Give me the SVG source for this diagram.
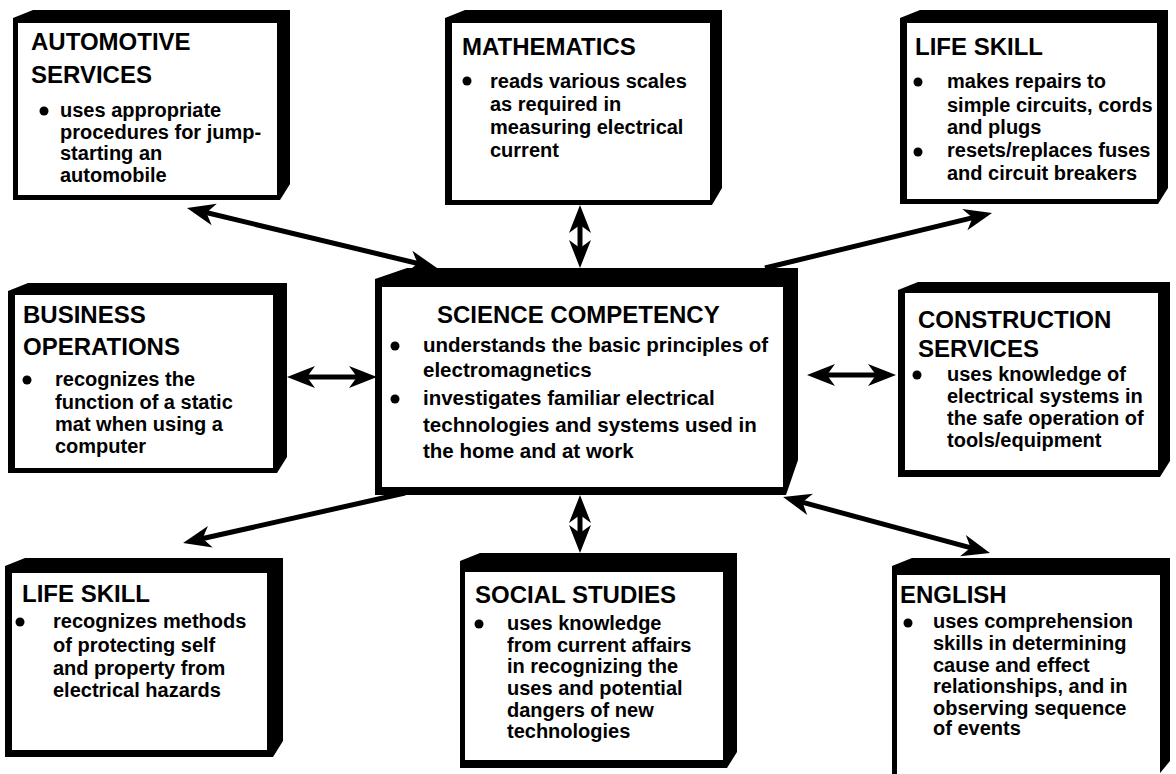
<svg xmlns="http://www.w3.org/2000/svg" width="1176" height="774" viewBox="0 0 1176 774">
<style>
.frame{fill:#000}
.face{fill:#fff}
.hd{font-family:"Liberation Sans",Arial,sans-serif;font-weight:bold;font-size:24px;fill:#000}
.tx{font-family:"Liberation Sans",Arial,sans-serif;font-weight:bold;font-size:20px;fill:#000}
.txs{font-family:"Liberation Sans",Arial,sans-serif;font-weight:bold;font-size:20.5px;fill:#000}
.conn{stroke:#000;stroke-width:5;fill:none}
</style>
<defs>
<marker id="ah" markerUnits="userSpaceOnUse" viewBox="-20 -13 32 26" markerWidth="32" markerHeight="26" refX="0" refY="0" orient="auto-start-reverse" overflow="visible">
<path d="M10,0 L-18,-11 L-10,0 L-18,11 Z" fill="#000"/>
</marker>
</defs>
<rect width="1176" height="774" fill="#fff"/>

<g id="automotive">
<polygon class="frame" points="13,18 33,10 290,10 290,184 280,200 13,200"/>
<rect class="face" x="18" y="23" width="259" height="172"/>
<text class="hd" x="31" y="50">AUTOMOTIVE</text>
<text class="hd" x="31" y="83">SERVICES</text>
<circle cx="44" cy="111" r="4.5"/>
<text class="tx" x="60" y="117">uses appropriate</text>
<text class="tx" x="60" y="139">procedures for jump-</text>
<text class="tx" x="60" y="160">starting an</text>
<text class="tx" x="60" y="182">automobile</text>
</g>

<g id="mathematics">
<polygon class="frame" points="445,18 465,10 722,10 722,188 712,205 445,205"/>
<rect class="face" x="452" y="23" width="258" height="177"/>
<text class="hd" x="462" y="55">MATHEMATICS</text>
<circle cx="467" cy="81" r="4.5"/>
<text class="tx" x="490" y="88">reads various scales</text>
<text class="tx" x="490" y="111">as required in</text>
<text class="tx" x="490" y="134">measuring electrical</text>
<text class="tx" x="490" y="157">current</text>
</g>

<g id="lifeskill-top">
<polygon class="frame" points="900,18 920,10 1168,10 1168,188 1158,204 900,204"/>
<rect class="face" x="907" y="23" width="250" height="176"/>
<text class="hd" x="915" y="55">LIFE SKILL</text>
<circle cx="918" cy="82" r="4.5"/>
<text class="tx" x="947" y="88">makes repairs to</text>
<text class="tx" x="947" y="112">simple circuits, cords</text>
<text class="tx" x="947" y="134">and plugs</text>
<circle cx="918" cy="152" r="4.5"/>
<text class="tx" x="947" y="157">resets/replaces fuses</text>
<text class="tx" x="947" y="180">and circuit breakers</text>
</g>

<g id="business">
<polygon class="frame" points="8,291 28,283 287,283 287,457 277,473 8,473"/>
<rect class="face" x="15" y="295" width="258" height="173"/>
<text class="hd" x="23" y="323">BUSINESS</text>
<text class="hd" x="23" y="355">OPERATIONS</text>
<circle cx="27" cy="380" r="4.5"/>
<text class="tx" x="55" y="386">recognizes the</text>
<text class="tx" x="55" y="409">function of a static</text>
<text class="tx" x="55" y="431">mat when using a</text>
<text class="tx" x="55" y="453">computer</text>
</g>

<g id="science">
<polygon class="frame" points="375,279 407,268 798,268 798,460 786,495 375,495"/>
<rect class="face" x="382" y="287" width="401" height="200"/>
<text class="hd" x="437" y="323">SCIENCE COMPETENCY</text>
<circle cx="395" cy="346" r="4.5"/>
<text class="txs" x="423" y="352">understands the basic principles of</text>
<text class="txs" x="423" y="377">electromagnetics</text>
<circle cx="395" cy="399" r="4.5"/>
<text class="txs" x="423" y="405">investigates familiar electrical</text>
<text class="txs" x="423" y="432">technologies and systems used in</text>
<text class="txs" x="423" y="458">the home and at work</text>
</g>

<g id="construction">
<polygon class="frame" points="898,290 918,282 1170,282 1170,461 1160,477 898,477"/>
<rect class="face" x="905" y="293" width="253" height="177"/>
<text class="hd" x="918" y="328">CONSTRUCTION</text>
<text class="hd" x="918" y="357">SERVICES</text>
<circle cx="917" cy="375" r="4.5"/>
<text class="tx" x="947" y="381">uses knowledge of</text>
<text class="tx" x="947" y="403">electrical systems in</text>
<text class="tx" x="947" y="425">the safe operation of</text>
<text class="tx" x="947" y="447">tools/equipment</text>
</g>

<g id="lifeskill-bottom">
<polygon class="frame" points="5,566 25,558 283,558 283,741 273,757 5,757"/>
<rect class="face" x="12" y="573" width="255" height="177"/>
<text class="hd" x="22" y="602">LIFE SKILL</text>
<circle cx="20" cy="622" r="4.5"/>
<text class="tx" x="53" y="628">recognizes methods</text>
<text class="tx" x="53" y="652">of protecting self</text>
<text class="tx" x="53" y="675">and property from</text>
<text class="tx" x="53" y="697">electrical hazards</text>
</g>

<g id="social">
<polygon class="frame" points="460,561 480,553 737,553 737,752 727,768 460,768"/>
<rect class="face" x="465" y="572" width="258" height="188"/>
<text class="hd" x="475" y="603">SOCIAL STUDIES</text>
<circle cx="479" cy="624" r="4.5"/>
<text class="tx" x="507" y="630">uses knowledge</text>
<text class="tx" x="507" y="652">from current affairs</text>
<text class="tx" x="507" y="673">in recognizing the</text>
<text class="tx" x="507" y="695">uses and potential</text>
<text class="tx" x="507" y="717">dangers of new</text>
<text class="tx" x="507" y="738">technologies</text>
</g>

<g id="english">
<polygon class="frame" points="892,566 912,558 1170,558 1170,761 1156,778 892,778"/>
<rect class="face" x="897" y="575" width="263" height="205"/>
<text class="hd" x="900" y="603">ENGLISH</text>
<circle cx="908" cy="623" r="4.5"/>
<text class="tx" x="933" y="628">uses comprehension</text>
<text class="tx" x="933" y="650">skills in determining</text>
<text class="tx" x="933" y="672">cause and effect</text>
<text class="tx" x="933" y="693">relationships, and in</text>
<text class="tx" x="933" y="715">observing sequence</text>
<text class="tx" x="933" y="735">of events</text>
</g>

<g id="connectors">
<line class="conn" x1="196.7" y1="210.3" x2="427.3" y2="265.7" marker-start="url(#ah)" marker-end="url(#ah)"/>
<line class="conn" x1="580" y1="215" x2="580" y2="258" marker-start="url(#ah)" marker-end="url(#ah)"/>
<line class="conn" x1="765" y1="268" x2="982.3" y2="215.4" marker-end="url(#ah)"/>
<line class="conn" x1="297" y1="377" x2="367" y2="377" marker-start="url(#ah)" marker-end="url(#ah)"/>
<line class="conn" x1="817" y1="375" x2="886" y2="375" marker-start="url(#ah)" marker-end="url(#ah)"/>
<line class="conn" x1="405" y1="493" x2="192.8" y2="540.8" marker-end="url(#ah)"/>
<line class="conn" x1="580" y1="505" x2="580" y2="543" marker-start="url(#ah)" marker-end="url(#ah)"/>
<line class="conn" x1="792.7" y1="499.6" x2="980.3" y2="550.4" marker-start="url(#ah)" marker-end="url(#ah)"/>
</g>
</svg>
